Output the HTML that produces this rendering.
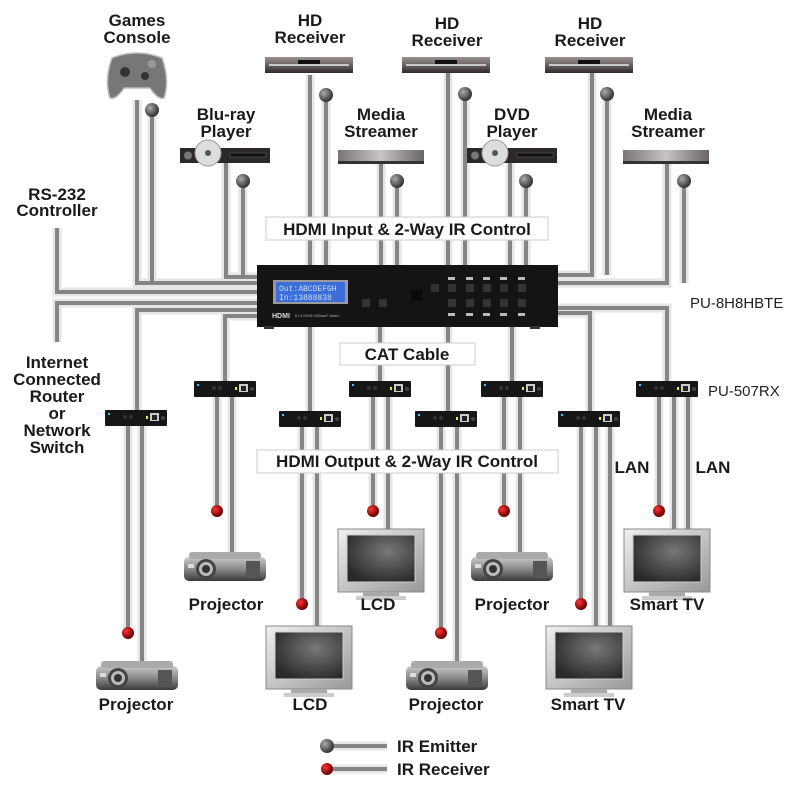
<!DOCTYPE html>
<html><head><meta charset="utf-8"><style>
html,body{margin:0;padding:0;background:#fff;}
svg{display:block;}
.t{font-family:"Liberation Sans",sans-serif;font-weight:bold;font-size:17px;fill:#1a1a1a;text-anchor:middle;}
.r{font-family:"Liberation Sans",sans-serif;font-size:15px;fill:#222;}
.halo{fill:none;stroke:#e6e6e6;stroke-width:9;stroke-linejoin:miter;}
.ln{fill:none;stroke:#858585;stroke-width:4;stroke-linejoin:miter;}
</style></head><body>
<svg width="800" height="788" viewBox="0 0 800 788" xmlns="http://www.w3.org/2000/svg">
<defs>
<radialGradient id="gb" cx="35%" cy="35%" r="65%"><stop offset="0" stop-color="#aaa"/><stop offset="1" stop-color="#333"/></radialGradient>
<radialGradient id="rb" cx="35%" cy="35%" r="65%"><stop offset="0" stop-color="#f33"/><stop offset="1" stop-color="#600"/></radialGradient>
<linearGradient id="dev" x1="0" y1="0" x2="0" y2="1"><stop offset="0" stop-color="#9a9090"/><stop offset="0.5" stop-color="#6a6262"/><stop offset="1" stop-color="#2e2a2a"/></linearGradient>
<linearGradient id="ms" x1="0" y1="0" x2="1" y2="0"><stop offset="0" stop-color="#7a7474"/><stop offset="0.5" stop-color="#c8c4c4"/><stop offset="1" stop-color="#6a6464"/></linearGradient>
<linearGradient id="pj" x1="0" y1="0" x2="0" y2="1"><stop offset="0" stop-color="#c8c8c8"/><stop offset="0.5" stop-color="#8a8a8a"/><stop offset="1" stop-color="#3a3a3a"/></linearGradient>
<radialGradient id="scr" cx="60%" cy="35%" r="70%"><stop offset="0" stop-color="#777"/><stop offset="1" stop-color="#2a2a2a"/></radialGradient>
<linearGradient id="tvf" x1="0" y1="0" x2="1" y2="1"><stop offset="0" stop-color="#f0f0f0"/><stop offset="1" stop-color="#999"/></linearGradient>
<g id="rx"><rect x="0" y="0" width="62" height="16" rx="1" fill="#161616"/><rect x="3" y="3" width="2" height="2" fill="#3cf"/><circle cx="20" cy="7" r="2" fill="#333"/><circle cx="26" cy="7" r="2" fill="#333"/><rect x="41" y="6" width="2" height="3" fill="#ee3"/><rect x="45" y="3" width="9" height="8" fill="#ccc"/><rect x="47" y="5" width="5" height="5" fill="#222"/><circle cx="58" cy="8" r="2" fill="#444"/></g>
<g id="proj"><rect x="0" y="5" width="82" height="24" rx="5" fill="url(#pj)"/><rect x="5" y="0" width="72" height="7" rx="3" fill="#aaa"/><circle cx="22" cy="17" r="10" fill="#444"/><circle cx="22" cy="17" r="7" fill="#bbb"/><circle cx="22" cy="17" r="4" fill="#333"/><rect x="62" y="9" width="14" height="17" fill="#555"/><rect x="4" y="12" width="6" height="4" fill="#ddd"/></g>
<g id="tv"><rect x="0" y="0" width="86" height="63" fill="url(#tvf)" stroke="#888" stroke-width="1"/><rect x="9" y="6" width="68" height="47" fill="url(#scr)" stroke="#ccc" stroke-width="1"/><rect x="25" y="63" width="36" height="4" fill="#aaa"/><rect x="18" y="67" width="50" height="4" fill="#ccc"/></g>
<g id="hdr"><rect x="0" y="0" width="88" height="16" fill="url(#dev)"/><rect x="4" y="7" width="80" height="2" fill="#c8c8c8"/><rect x="33" y="3" width="22" height="4" fill="#111"/></g>
<g id="dvd"><rect x="0" y="0" width="90" height="15" fill="#2c2828"/><rect x="50" y="5" width="36" height="4" fill="#111" stroke="#666" stroke-width="0.5"/><circle cx="8" cy="7.5" r="4" fill="#777"/><circle cx="28" cy="5" r="13" fill="#ddd" stroke="#999"/><circle cx="28" cy="5" r="3" fill="#555"/></g>
<g id="mst"><rect x="0" y="0" width="86" height="14" fill="url(#ms)"/><rect x="0" y="11" width="86" height="3" fill="#333"/></g>
<g id="paths" fill="none">
<path fill="none" d="M137 100V283H258M152 110V283"/>
<path fill="none" d="M226 163V277H258M243 181V277"/>
<path fill="none" d="M310 75V266M326 95V266"/>
<path fill="none" d="M381 163V266M397 181V266"/>
<path fill="none" d="M448 72V266M465 94V266"/>
<path fill="none" d="M510 163V266M526 181V266"/>
<path fill="none" d="M592 72V275H557M607 94V275"/>
<path fill="none" d="M667 164V283H557M684 181V283"/>
<path fill="none" d="M57 228V292H258"/>
<path fill="none" d="M57 342V303H258"/>
<path fill="none" d="M258 310H137V412"/>
<path fill="none" d="M258 316H225V382"/>
<path fill="none" d="M310 326V412M380 326V382M448 326V412M512 326V382"/>
<path fill="none" d="M557 313H590V412"/>
<path fill="none" d="M557 308H667V382"/>
<path fill="none" d="M128 426V633M142 426V665"/>
<path fill="none" d="M217 396V511M232 396V557"/>
<path fill="none" d="M302 426V604M317 426V628"/>
<path fill="none" d="M373 396V511M388 396V530"/>
<path fill="none" d="M441 426V633M457 426V665"/>
<path fill="none" d="M504 396V511M520 396V557"/>
<path fill="none" d="M581 426V604M596 426V628M610 426V628"/>
<path fill="none" d="M659 396V511M674 396V530M688 396V530"/>
<path fill="none" d="M327 746H387M327 769H387"/>
</g>
</defs>

<use href="#paths" class="halo"/>
<use href="#paths" class="ln"/>

<!-- top devices -->
<path d="M112 58 Q137 48 162 58 Q170 80 164 98 Q158 100 150 88 L124 88 Q116 100 110 98 Q104 80 112 58Z" fill="#777" stroke="#bbb" stroke-width="1.5"/>
<circle cx="125" cy="72" r="5" fill="#333"/><circle cx="145" cy="76" r="4" fill="#333"/><circle cx="152" cy="64" r="4" fill="#999"/>
<use href="#hdr" x="265" y="57"/>
<use href="#hdr" x="402" y="57"/>
<use href="#hdr" x="545" y="57"/>
<use href="#dvd" x="180" y="148"/>
<use href="#dvd" x="467" y="148"/>
<use href="#mst" x="338" y="150"/>
<use href="#mst" x="623" y="150"/>

<g fill="url(#gb)">
<circle cx="152" cy="110" r="7"/><circle cx="243" cy="181" r="7"/><circle cx="326" cy="95" r="7"/><circle cx="397" cy="181" r="7"/>
<circle cx="465" cy="94" r="7"/><circle cx="526" cy="181" r="7"/><circle cx="607" cy="94" r="7"/><circle cx="684" cy="181" r="7"/>
<circle cx="327" cy="746" r="7"/>
</g>

<!-- matrix -->
<rect x="257" y="265" width="301" height="62" fill="#141414"/>
<rect x="264" y="326" width="10" height="3" fill="#333"/><rect x="530" y="326" width="10" height="3" fill="#333"/>
<rect x="273" y="280" width="75" height="24" fill="#999"/>
<rect x="276" y="282" width="69" height="20" fill="#3b6ed8"/>
<text x="279" y="291" font-family="Liberation Mono,monospace" font-size="8" fill="#cde">Out:ABCDEFGH</text>
<text x="279" y="300" font-family="Liberation Mono,monospace" font-size="8" fill="#cde"> In:13888838</text>
<text x="272" y="318" font-family="Liberation Sans,sans-serif" font-weight="bold" font-size="7" fill="#ddd">HDMI</text>
<text x="295" y="317" font-family="Liberation Sans,sans-serif" font-size="3.5" fill="#aaa">8 x 8 HDMI HDBaseT Matrix</text>
<rect x="362" y="299" width="8" height="8" fill="#333"/><rect x="379" y="299" width="8" height="8" fill="#333"/>
<rect x="411" y="290" width="11" height="11" fill="#0a0a0a"/>
<g fill="#333"><rect x="431" y="284" width="8" height="8"/><rect x="448" y="284" width="8" height="8"/><rect x="466" y="284" width="8" height="8"/><rect x="483" y="284" width="8" height="8"/><rect x="500" y="284" width="8" height="8"/><rect x="518" y="284" width="8" height="8"/>
<rect x="448" y="299" width="8" height="8"/><rect x="466" y="299" width="8" height="8"/><rect x="483" y="299" width="8" height="8"/><rect x="500" y="299" width="8" height="8"/><rect x="518" y="299" width="8" height="8"/></g>
<g fill="#bbb"><rect x="448" y="277" width="7" height="3"/><rect x="466" y="277" width="7" height="3"/><rect x="483" y="277" width="7" height="3"/><rect x="500" y="277" width="7" height="3"/><rect x="518" y="277" width="7" height="3"/>
<rect x="448" y="313" width="7" height="3"/><rect x="466" y="313" width="7" height="3"/><rect x="483" y="313" width="7" height="3"/><rect x="500" y="313" width="7" height="3"/><rect x="518" y="313" width="7" height="3"/></g>

<use href="#rx" x="105" y="410"/><use href="#rx" x="194" y="381"/><use href="#rx" x="279" y="411"/><use href="#rx" x="349" y="381"/>
<use href="#rx" x="415" y="411"/><use href="#rx" x="481" y="381"/><use href="#rx" x="558" y="411"/><use href="#rx" x="636" y="381"/>

<use href="#proj" x="96" y="661"/>
<use href="#proj" x="184" y="552"/>
<use href="#proj" x="406" y="661"/>
<use href="#proj" x="471" y="552"/>
<use href="#tv" x="266" y="626"/>
<use href="#tv" x="338" y="529"/>
<use href="#tv" x="546" y="626"/>
<use href="#tv" x="624" y="529"/>

<g fill="url(#rb)">
<circle cx="128" cy="633" r="6"/><circle cx="217" cy="511" r="6"/><circle cx="302" cy="604" r="6"/><circle cx="373" cy="511" r="6"/>
<circle cx="441" cy="633" r="6"/><circle cx="504" cy="511" r="6"/><circle cx="581" cy="604" r="6"/><circle cx="659" cy="511" r="6"/>
<circle cx="327" cy="769" r="6"/>
</g>

<rect x="266" y="217" width="282" height="23" fill="#fff" stroke="#ccc"/>
<text class="t" x="407" y="235">HDMI Input &amp; 2-Way IR Control</text>
<rect x="340" y="343" width="135" height="22" fill="#fff" stroke="#ccc"/>
<text class="t" x="407" y="360">CAT Cable</text>
<rect x="257" y="450" width="301" height="23" fill="#fff" stroke="#ccc"/>
<text class="t" x="407" y="467">HDMI Output &amp; 2-Way IR Control</text>

<text class="t" x="137" y="26">Games</text><text class="t" x="137" y="43">Console</text>
<text class="t" x="310" y="26">HD</text><text class="t" x="310" y="43">Receiver</text>
<text class="t" x="447" y="29">HD</text><text class="t" x="447" y="46">Receiver</text>
<text class="t" x="590" y="29">HD</text><text class="t" x="590" y="46">Receiver</text>
<text class="t" x="226" y="120">Blu-ray</text><text class="t" x="226" y="137">Player</text>
<text class="t" x="381" y="120">Media</text><text class="t" x="381" y="137">Streamer</text>
<text class="t" x="512" y="120">DVD</text><text class="t" x="512" y="137">Player</text>
<text class="t" x="668" y="120">Media</text><text class="t" x="668" y="137">Streamer</text>
<text class="t" x="57" y="200">RS-232</text><text class="t" x="57" y="216">Controller</text>
<text class="t" x="57" y="368">Internet</text><text class="t" x="57" y="385">Connected</text><text class="t" x="57" y="402">Router</text><text class="t" x="57" y="419">or</text><text class="t" x="57" y="436">Network</text><text class="t" x="57" y="453">Switch</text>
<text class="r" x="690" y="308">PU-8H8HBTE</text>
<text class="r" x="708" y="396">PU-507RX</text>
<text class="t" x="632" y="473">LAN</text><text class="t" x="713" y="473">LAN</text>
<text class="t" x="226" y="610">Projector</text><text class="t" x="378" y="610">LCD</text><text class="t" x="512" y="610">Projector</text><text class="t" x="667" y="610">Smart TV</text>
<text class="t" x="136" y="710">Projector</text><text class="t" x="310" y="710">LCD</text><text class="t" x="446" y="710">Projector</text><text class="t" x="588" y="710">Smart TV</text>
<text class="t" x="397" y="752" style="text-anchor:start">IR Emitter</text>
<text class="t" x="397" y="775" style="text-anchor:start">IR Receiver</text>
</svg>
</body></html>
